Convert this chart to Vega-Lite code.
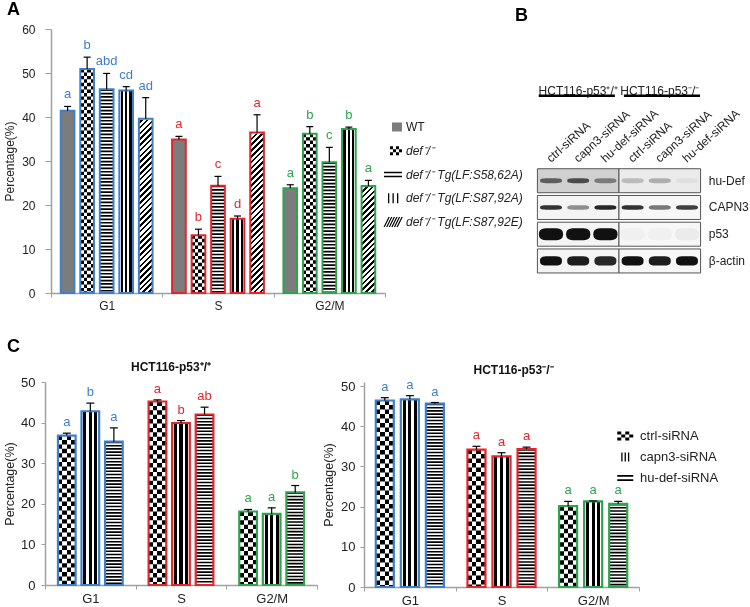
{
"$schema":"https://vega.github.io/schema/vega-lite/v6.json",
"background":"white",
"padding":{"left":3,"top":1,"right":2,"bottom":2},
"config":{"font":"Liberation Sans","view":{"stroke":null},"axis":{"grid":false}},
"bounds":"flush",
"spacing":353,
"resolve":{"scale":{"xOffset":"independent","shape":"independent","color":"independent","opacity":"independent"}},
"vconcat":[
{"hconcat":[
 {"width":6,"height":264,"data":{"values":[{}]},"mark":{"type":"point","opacity":0},"encoding":{}},
 {"width":334,"height":264,
  "title":{"text":"A","anchor":"start","frame":"group","dx":-44,"offset":4,"fontSize":18,"fontWeight":"bold","color":"#000"},
  "data":{"values":[
   {"phase":"G1","g":"WT","v":41.4,"top":42.4,"lab":"a"},
   {"phase":"G1","g":"def","v":50.9,"top":53.6,"lab":"b"},
   {"phase":"G1","g":"S58A","v":46.3,"top":49.9,"lab":"abd"},
   {"phase":"G1","g":"S87A","v":46.0,"top":46.9,"lab":"cd"},
   {"phase":"G1","g":"S87E","v":39.6,"top":44.4,"lab":"ad"},
   {"phase":"S","g":"WT","v":34.9,"top":35.6,"lab":"a"},
   {"phase":"S","g":"def","v":13.1,"top":14.5,"lab":"b"},
   {"phase":"S","g":"S58A","v":24.4,"top":26.5,"lab":"c"},
   {"phase":"S","g":"S87A","v":16.9,"top":17.5,"lab":"d"},
   {"phase":"S","g":"S87E","v":36.5,"top":40.5,"lab":"a"},
   {"phase":"G2/M","g":"WT","v":23.8,"top":24.6,"lab":"a"},
   {"phase":"G2/M","g":"def","v":36.2,"top":37.8,"lab":"b"},
   {"phase":"G2/M","g":"S58A","v":29.7,"top":33.1,"lab":"c"},
   {"phase":"G2/M","g":"S87A","v":37.3,"top":37.7,"lab":"b"},
   {"phase":"G2/M","g":"S87E","v":24.3,"top":25.6,"lab":"a"}]},
  "encoding":{
   "x":{"field":"phase","type":"nominal","scale":{"domain":["G1","S","G2/M"],"paddingInner":0,"paddingOuter":0},"axis":{"title":null,"labelAngle":0,"labelFontSize":12,"labelColor":"#222","labelPadding":3,"domainColor":"#a0a0a0","domainWidth":1.5,"tickColor":"#a0a0a0","tickSize":4,"tickBand":"extent"}},
   "xOffset":{"field":"g","type":"nominal","scale":{"domain":["WT","def","S58A","S87A","S87E"],"paddingInner":0.3,"paddingOuter":0.5}}},
  "layer":[
   {"transform":[{"filter":"datum.g==='def'"}],"mark":{"type":"bar","fill":"#fff"},
    "encoding":{"y":{"field":"v","type":"quantitative","scale":{"domain":[0,60],"nice":false,"zero":true},
     "axis":{"title":"Percentage(%)","titleFontSize":12,"titleFontWeight":"normal","titleColor":"#222","titlePadding":5,"values":[0,10,20,30,40,50,60],"labelFontSize":12,"labelColor":"#222","labelPadding":10,"tickSize":6,"tickColor":"#a0a0a0","domainColor":"#a0a0a0","domainWidth":1.5,"grid":false}}}},
   {"transform":[{"filter":"datum.g==='def'"}],"mark":{"type":"rule","strokeWidth":13.67,"strokeDash":[3.42,3.42],"color":"#000"},
    "encoding":{"y":{"field":"v","type":"quantitative"},"y2":{"datum":0}}},
   {"transform":[{"filter":"datum.g==='def'"}],"mark":{"type":"bar","blend":"difference","fill":{"gradient":"linear","x1":0,"y1":0,"x2":1,"y2":0,"stops":[{"offset":0,"color":"#000"},{"offset":0.25,"color":"#000"},{"offset":0.25,"color":"#fff"},{"offset":0.5,"color":"#fff"},{"offset":0.5,"color":"#000"},{"offset":0.75,"color":"#000"},{"offset":0.75,"color":"#fff"},{"offset":1,"color":"#fff"}]}},
    "encoding":{"y":{"field":"v","type":"quantitative"}}},
   {"transform":[{"filter":"datum.g==='WT'"}],"mark":{"type":"bar","fill":"#7c7c7c"},
    "encoding":{"y":{"field":"v","type":"quantitative"}}},
   {"transform":[{"filter":"datum.g==='S58A'"}],"mark":{"type":"rule","strokeWidth":13.67,"strokeDash":[1.7,1.7],"color":"#000"},
    "encoding":{"y":{"field":"v","type":"quantitative"},"y2":{"datum":0}}},
   {"transform":[{"filter":"datum.g==='S87A'"}],"mark":{"type":"bar","fill":{"gradient":"linear","x1":0,"y1":0,"x2":1,"y2":0,"stops":[{"offset":0,"color":"#fff"},{"offset":0.1,"color":"#fff"},{"offset":0.1,"color":"#000"},{"offset":0.27,"color":"#000"},{"offset":0.27,"color":"#fff"},{"offset":0.415,"color":"#fff"},{"offset":0.415,"color":"#000"},{"offset":0.585,"color":"#000"},{"offset":0.585,"color":"#fff"},{"offset":0.73,"color":"#fff"},{"offset":0.73,"color":"#000"},{"offset":0.9,"color":"#000"},{"offset":0.9,"color":"#fff"},{"offset":1,"color":"#fff"}]}},
    "encoding":{"y":{"field":"v","type":"quantitative"}}},
   {"transform":[{"filter":"datum.g==='S87E'"}],"mark":{"type":"bar","fill":{"gradient":"linear","x1":0,"y1":0,"x2":0.05432,"y2":1.04897,"stops":[
{"offset":0,"color":"#000"},{"offset":0.0094,"color":"#000"},{"offset":0.0094,"color":"#fff"},{"offset":0.0208,"color":"#fff"},
{"offset":0.0208,"color":"#000"},{"offset":0.0302,"color":"#000"},{"offset":0.0302,"color":"#fff"},{"offset":0.0417,"color":"#fff"},
{"offset":0.0417,"color":"#000"},{"offset":0.0511,"color":"#000"},{"offset":0.0511,"color":"#fff"},{"offset":0.0625,"color":"#fff"},
{"offset":0.0625,"color":"#000"},{"offset":0.0719,"color":"#000"},{"offset":0.0719,"color":"#fff"},{"offset":0.0833,"color":"#fff"},
{"offset":0.0833,"color":"#000"},{"offset":0.0927,"color":"#000"},{"offset":0.0927,"color":"#fff"},{"offset":0.1042,"color":"#fff"},
{"offset":0.1042,"color":"#000"},{"offset":0.1136,"color":"#000"},{"offset":0.1136,"color":"#fff"},{"offset":0.125,"color":"#fff"},
{"offset":0.125,"color":"#000"},{"offset":0.1344,"color":"#000"},{"offset":0.1344,"color":"#fff"},{"offset":0.1458,"color":"#fff"},
{"offset":0.1458,"color":"#000"},{"offset":0.1552,"color":"#000"},{"offset":0.1552,"color":"#fff"},{"offset":0.1667,"color":"#fff"},
{"offset":0.1667,"color":"#000"},{"offset":0.1761,"color":"#000"},{"offset":0.1761,"color":"#fff"},{"offset":0.1875,"color":"#fff"},
{"offset":0.1875,"color":"#000"},{"offset":0.1969,"color":"#000"},{"offset":0.1969,"color":"#fff"},{"offset":0.2083,"color":"#fff"},
{"offset":0.2083,"color":"#000"},{"offset":0.2177,"color":"#000"},{"offset":0.2177,"color":"#fff"},{"offset":0.2292,"color":"#fff"},
{"offset":0.2292,"color":"#000"},{"offset":0.2386,"color":"#000"},{"offset":0.2386,"color":"#fff"},{"offset":0.25,"color":"#fff"},
{"offset":0.25,"color":"#000"},{"offset":0.2594,"color":"#000"},{"offset":0.2594,"color":"#fff"},{"offset":0.2708,"color":"#fff"},
{"offset":0.2708,"color":"#000"},{"offset":0.2802,"color":"#000"},{"offset":0.2802,"color":"#fff"},{"offset":0.2917,"color":"#fff"},
{"offset":0.2917,"color":"#000"},{"offset":0.3011,"color":"#000"},{"offset":0.3011,"color":"#fff"},{"offset":0.3125,"color":"#fff"},
{"offset":0.3125,"color":"#000"},{"offset":0.3219,"color":"#000"},{"offset":0.3219,"color":"#fff"},{"offset":0.3333,"color":"#fff"},
{"offset":0.3333,"color":"#000"},{"offset":0.3427,"color":"#000"},{"offset":0.3427,"color":"#fff"},{"offset":0.3542,"color":"#fff"},
{"offset":0.3542,"color":"#000"},{"offset":0.3636,"color":"#000"},{"offset":0.3636,"color":"#fff"},{"offset":0.375,"color":"#fff"},
{"offset":0.375,"color":"#000"},{"offset":0.3844,"color":"#000"},{"offset":0.3844,"color":"#fff"},{"offset":0.3958,"color":"#fff"},
{"offset":0.3958,"color":"#000"},{"offset":0.4052,"color":"#000"},{"offset":0.4052,"color":"#fff"},{"offset":0.4167,"color":"#fff"},
{"offset":0.4167,"color":"#000"},{"offset":0.4261,"color":"#000"},{"offset":0.4261,"color":"#fff"},{"offset":0.4375,"color":"#fff"},
{"offset":0.4375,"color":"#000"},{"offset":0.4469,"color":"#000"},{"offset":0.4469,"color":"#fff"},{"offset":0.4583,"color":"#fff"},
{"offset":0.4583,"color":"#000"},{"offset":0.4677,"color":"#000"},{"offset":0.4677,"color":"#fff"},{"offset":0.4792,"color":"#fff"},
{"offset":0.4792,"color":"#000"},{"offset":0.4886,"color":"#000"},{"offset":0.4886,"color":"#fff"},{"offset":0.5,"color":"#fff"},
{"offset":0.5,"color":"#000"},{"offset":0.5094,"color":"#000"},{"offset":0.5094,"color":"#fff"},{"offset":0.5208,"color":"#fff"},
{"offset":0.5208,"color":"#000"},{"offset":0.5302,"color":"#000"},{"offset":0.5302,"color":"#fff"},{"offset":0.5417,"color":"#fff"},
{"offset":0.5417,"color":"#000"},{"offset":0.5511,"color":"#000"},{"offset":0.5511,"color":"#fff"},{"offset":0.5625,"color":"#fff"},
{"offset":0.5625,"color":"#000"},{"offset":0.5719,"color":"#000"},{"offset":0.5719,"color":"#fff"},{"offset":0.5833,"color":"#fff"},
{"offset":0.5833,"color":"#000"},{"offset":0.5927,"color":"#000"},{"offset":0.5927,"color":"#fff"},{"offset":0.6042,"color":"#fff"},
{"offset":0.6042,"color":"#000"},{"offset":0.6136,"color":"#000"},{"offset":0.6136,"color":"#fff"},{"offset":0.625,"color":"#fff"},
{"offset":0.625,"color":"#000"},{"offset":0.6344,"color":"#000"},{"offset":0.6344,"color":"#fff"},{"offset":0.6458,"color":"#fff"},
{"offset":0.6458,"color":"#000"},{"offset":0.6552,"color":"#000"},{"offset":0.6552,"color":"#fff"},{"offset":0.6667,"color":"#fff"},
{"offset":0.6667,"color":"#000"},{"offset":0.6761,"color":"#000"},{"offset":0.6761,"color":"#fff"},{"offset":0.6875,"color":"#fff"},
{"offset":0.6875,"color":"#000"},{"offset":0.6969,"color":"#000"},{"offset":0.6969,"color":"#fff"},{"offset":0.7083,"color":"#fff"},
{"offset":0.7083,"color":"#000"},{"offset":0.7177,"color":"#000"},{"offset":0.7177,"color":"#fff"},{"offset":0.7292,"color":"#fff"},
{"offset":0.7292,"color":"#000"},{"offset":0.7386,"color":"#000"},{"offset":0.7386,"color":"#fff"},{"offset":0.75,"color":"#fff"},
{"offset":0.75,"color":"#000"},{"offset":0.7594,"color":"#000"},{"offset":0.7594,"color":"#fff"},{"offset":0.7708,"color":"#fff"},
{"offset":0.7708,"color":"#000"},{"offset":0.7802,"color":"#000"},{"offset":0.7802,"color":"#fff"},{"offset":0.7917,"color":"#fff"},
{"offset":0.7917,"color":"#000"},{"offset":0.8011,"color":"#000"},{"offset":0.8011,"color":"#fff"},{"offset":0.8125,"color":"#fff"},
{"offset":0.8125,"color":"#000"},{"offset":0.8219,"color":"#000"},{"offset":0.8219,"color":"#fff"},{"offset":0.8333,"color":"#fff"},
{"offset":0.8333,"color":"#000"},{"offset":0.8427,"color":"#000"},{"offset":0.8427,"color":"#fff"},{"offset":0.8542,"color":"#fff"},
{"offset":0.8542,"color":"#000"},{"offset":0.8636,"color":"#000"},{"offset":0.8636,"color":"#fff"},{"offset":0.875,"color":"#fff"},
{"offset":0.875,"color":"#000"},{"offset":0.8844,"color":"#000"},{"offset":0.8844,"color":"#fff"},{"offset":0.8958,"color":"#fff"},
{"offset":0.8958,"color":"#000"},{"offset":0.9052,"color":"#000"},{"offset":0.9052,"color":"#fff"},{"offset":0.9167,"color":"#fff"},
{"offset":0.9167,"color":"#000"},{"offset":0.9261,"color":"#000"},{"offset":0.9261,"color":"#fff"},{"offset":0.9375,"color":"#fff"},
{"offset":0.9375,"color":"#000"},{"offset":0.9469,"color":"#000"},{"offset":0.9469,"color":"#fff"},{"offset":0.9583,"color":"#fff"},
{"offset":0.9583,"color":"#000"},{"offset":0.9677,"color":"#000"},{"offset":0.9677,"color":"#fff"},{"offset":0.9792,"color":"#fff"},
{"offset":0.9792,"color":"#000"},{"offset":0.9886,"color":"#000"},{"offset":0.9886,"color":"#fff"},{"offset":1,"color":"#fff"}]}},
    "encoding":{"y":{"datum":60,"type":"quantitative"},"y2":{"datum":0}}},
   {"transform":[{"filter":"datum.g==='S87E'"}],"mark":{"type":"bar","fill":"#fff","stroke":"#fff","strokeWidth":2},
    "encoding":{"y":{"field":"v","type":"quantitative"},"y2":{"datum":60}}},
   {"mark":{"type":"bar","filled":false,"strokeWidth":2},
    "encoding":{"y":{"field":"v","type":"quantitative"},"color":{"field":"phase","type":"nominal","scale":{"domain":["G1","S","G2/M"],"range":["#3f7fc8","#e3262c","#30a24f"]},"legend":null}}},
   {"mark":{"type":"rule","color":"#000","strokeWidth":1.2},
    "encoding":{"y":{"field":"v","type":"quantitative"},"y2":{"field":"top"}}},
   {"mark":{"type":"tick","orient":"horizontal","size":7,"thickness":1.2,"color":"#000","opacity":1},
    "encoding":{"y":{"field":"top","type":"quantitative"}}},
   {"mark":{"type":"text","baseline":"alphabetic","dy":-8,"fontSize":13},
    "encoding":{"y":{"field":"top","type":"quantitative"},"text":{"field":"lab"},"color":{"field":"phase","type":"nominal","legend":null}}}
  ]},
 {"width":367,"height":264,
  "title":{"text":"B","anchor":"start","frame":"group","dx":130,"offset":4,"fontSize":18,"fontWeight":"bold","color":"#000"},
  "resolve":{"scale":{"y":"independent","shape":"independent"}},
  "layer":[
   {"data":{"values":[{"g":"WT","t":"WT"},{"g":"def","t":"def⁻/⁻"},{"g":"S58A","t":"def⁻/⁻ Tg(LF:S58,62A)"},{"g":"S87A","t":"def⁻/⁻ Tg(LF:S87,92A)"},{"g":"S87E","t":"def⁻/⁻ Tg(LF:S87,92E)"}]},
    "encoding":{"y":{"field":"g","type":"nominal","scale":{"type":"point","domain":["WT","def","S58A","S87A","S87E"],"range":[98,193],"padding":0},"axis":null}},
    "layer":[
     {"mark":{"type":"point","filled":true,"size":400,"opacity":1,"strokeWidth":0},
      "encoding":{"x":{"datum":-4.809,"type":"quantitative","scale":{"domain":[-5.103,8.39],"nice":false,"zero":false},"axis":null},
       "shape":{"field":"g","type":"nominal","scale":{"domain":["WT","def","S58A","S87A","S87E"],"range":[
        "M-0.1,-0.45h1v0.9h-1Z",
        "M-0.3,-0.45h0.3v0.3h-0.3Z M0.3,-0.45h0.3v0.3h-0.3Z M0,-0.15h0.3v0.3h-0.3Z M0.6,-0.15h0.3v0.3h-0.3Z M-0.3,0.15h0.3v0.3h-0.3Z M0.3,0.15h0.3v0.3h-0.3Z",
        "M-0.9,-0.28h1.8v0.16h-1.8Z M-0.9,0.12h1.8v0.16h-1.8Z",
        "M-0.5,-0.5h0.13v1h-0.13Z M-0.05,-0.5h0.13v1h-0.13Z M0.4,-0.5h0.13v1h-0.13Z",
        "M-0.95,0.5L-0.45,-0.5L-0.32,-0.5L-0.82,0.5Z M-0.69,0.5L-0.19,-0.5L-0.06,-0.5L-0.56,0.5Z M-0.43,0.5L0.07,-0.5L0.2,-0.5L-0.3,0.5Z M-0.17,0.5L0.33,-0.5L0.46,-0.5L-0.04,0.5Z M0.09,0.5L0.59,-0.5L0.72,-0.5L0.22,0.5Z M0.35,0.5L0.85,-0.5L0.98,-0.5L0.48,0.5Z"]},"legend":null},
       "fill":{"condition":{"test":"datum.g==='WT'","value":"#7c7c7c"},"value":"#000"}}},
     {"transform":[{"filter":"datum.g!=='WT'"}],"mark":{"type":"text","align":"left","baseline":"middle","fontSize":12,"fontStyle":"italic","color":"#222"},
      "encoding":{"x":{"datum":-4.331,"type":"quantitative"},"text":{"field":"t"}}},
     {"transform":[{"filter":"datum.g==='WT'"}],"mark":{"type":"text","align":"left","baseline":"middle","fontSize":12,"color":"#222"},
      "encoding":{"x":{"datum":-4.331,"type":"quantitative"},"text":{"field":"t"}}}
    ]},
   {"layer":[
     {"data":{"values":[{"protein":"hu-Def","row":1},{"protein":"CAPN3","row":2},{"protein":"p53","row":3},{"protein":"β-actin","row":4}]},
      "mark":{"type":"bar","orient":"horizontal","height":24,"stroke":"#555","strokeWidth":1},
      "encoding":{"x":{"datum":0.5,"type":"quantitative","scale":{"domain":[-5.103,8.39],"nice":false,"zero":false},"axis":null},"x2":{"datum":3.5},
       "y":{"field":"row","type":"quantitative","scale":{"domain":[-4.486,5.011],"reverse":true,"nice":false,"zero":false},"axis":null},
       "fill":{"condition":{"test":"datum.protein==='hu-Def'","value":"#d0d0d0"},"value":"#f4f4f4"}}},
     {"data":{"values":[{"protein":"hu-Def","row":1},{"protein":"CAPN3","row":2},{"protein":"p53","row":3},{"protein":"β-actin","row":4}]},
      "mark":{"type":"bar","orient":"horizontal","height":24,"stroke":"#555","strokeWidth":1},
      "encoding":{"x":{"datum":3.5,"type":"quantitative"},"x2":{"datum":6.5},
       "y":{"field":"row","type":"quantitative"},
       "fill":{"condition":{"test":"datum.protein==='hu-Def'","value":"#ebebeb"},"value":"#f7f7f7"}}},
     {"data":{"values":[
       {"protein":"hu-Def","row":1,"lane":1,"intensity":0.6},{"protein":"hu-Def","row":1,"lane":2,"intensity":0.7},{"protein":"hu-Def","row":1,"lane":3,"intensity":0.45},
       {"protein":"hu-Def","row":1,"lane":4,"intensity":0.22},{"protein":"hu-Def","row":1,"lane":5,"intensity":0.28},{"protein":"hu-Def","row":1,"lane":6,"intensity":0.05},
       {"protein":"CAPN3","row":2,"lane":1,"intensity":0.85},{"protein":"CAPN3","row":2,"lane":2,"intensity":0.45},{"protein":"CAPN3","row":2,"lane":3,"intensity":0.9},
       {"protein":"CAPN3","row":2,"lane":4,"intensity":0.85},{"protein":"CAPN3","row":2,"lane":5,"intensity":0.55},{"protein":"CAPN3","row":2,"lane":6,"intensity":0.8},
       {"protein":"p53","row":3,"lane":1,"intensity":1},{"protein":"p53","row":3,"lane":2,"intensity":1},{"protein":"p53","row":3,"lane":3,"intensity":1},
       {"protein":"p53","row":3,"lane":4,"intensity":0.03},{"protein":"p53","row":3,"lane":5,"intensity":0.03},{"protein":"p53","row":3,"lane":6,"intensity":0.05},
       {"protein":"β-actin","row":4,"lane":1,"intensity":1},{"protein":"β-actin","row":4,"lane":2,"intensity":0.95},{"protein":"β-actin","row":4,"lane":3,"intensity":0.9},
       {"protein":"β-actin","row":4,"lane":4,"intensity":1},{"protein":"β-actin","row":4,"lane":5,"intensity":0.95},{"protein":"β-actin","row":4,"lane":6,"intensity":1}]},
      "mark":{"type":"point","filled":true,"size":484,"strokeWidth":0,"fill":"#111"},
      "encoding":{"x":{"field":"lane","type":"quantitative"},"y":{"field":"row","type":"quantitative"},
       "shape":{"field":"protein","type":"nominal","scale":{"domain":["hu-Def","CAPN3","p53","β-actin"],"range":[
        "M-1,0C-1,-0.22,-0.7,-0.22,0,-0.22C0.7,-0.22,1,-0.22,1,0C1,0.22,0.7,0.22,0,0.22C-0.7,0.22,-1,0.22,-1,0Z",
        "M-1,0C-1,-0.2,-0.7,-0.2,0,-0.2C0.7,-0.2,1,-0.2,1,0C1,0.2,0.7,0.2,0,0.2C-0.7,0.2,-1,0.2,-1,0Z",
        "M-1.1,0C-1.1,-0.55,-0.7,-0.55,0,-0.55C0.7,-0.55,1.1,-0.55,1.1,0C1.1,0.55,0.7,0.55,0,0.55C-0.7,0.55,-1.1,0.55,-1.1,0Z",
        "M-1,0C-1,-0.42,-0.7,-0.42,0,-0.42C0.7,-0.42,1,-0.42,1,0C1,0.42,0.7,0.42,0,0.42C-0.7,0.42,-1,0.42,-1,0Z"]},"legend":null},
       "opacity":{"field":"intensity","type":"quantitative","scale":null}}},
     {"data":{"values":[{"protein":"hu-Def","row":1},{"protein":"CAPN3","row":2},{"protein":"p53","row":3},{"protein":"β-actin","row":4}]},
      "mark":{"type":"text","align":"left","baseline":"middle","fontSize":12,"color":"#222"},
      "encoding":{"x":{"datum":6.8,"type":"quantitative"},"y":{"field":"row","type":"quantitative"},"text":{"field":"protein"}}},
     {"data":{"values":[{"lane":2,"t":"HCT116-p53⁺/⁺"},{"lane":5,"t":"HCT116-p53⁻/⁻"}]},
      "mark":{"type":"text","align":"center","baseline":"middle","fontSize":12,"color":"#222"},
      "encoding":{"x":{"field":"lane","type":"quantitative"},"y":{"datum":-2.36,"type":"quantitative"},"text":{"field":"t"}}},
     {"data":{"values":[{}]},"mark":{"type":"rule","strokeWidth":2.5,"color":"#000"},
      "encoding":{"x":{"datum":0.55,"type":"quantitative"},"x2":{"datum":3.35},"y":{"datum":-2.18,"type":"quantitative"}}},
     {"data":{"values":[{}]},"mark":{"type":"rule","strokeWidth":2.5,"color":"#000"},
      "encoding":{"x":{"datum":3.68,"type":"quantitative"},"x2":{"datum":6.48},"y":{"datum":-2.18,"type":"quantitative"}}},
     {"data":{"values":[{"lane":1,"t":"ctrl-siRNA"},{"lane":2,"t":"capn3-siRNA"},{"lane":3,"t":"hu-def-siRNA"},{"lane":4,"t":"ctrl-siRNA"},{"lane":5,"t":"capn3-siRNA"},{"lane":6,"t":"hu-def-siRNA"}]},
      "mark":{"type":"text","align":"left","baseline":"alphabetic","angle":-42,"fontSize":12,"color":"#222"},
      "encoding":{"x":{"field":"lane","type":"quantitative"},"y":{"datum":0.335,"type":"quantitative"},"text":{"field":"t"}}}
   ]}
  ]}
 ],"spacing":0,"bounds":"flush",
 "resolve":{"scale":{"xOffset":"independent","shape":"independent","color":"independent","opacity":"independent"}}},
{"hconcat":[
 {"width":272,"height":203,
  "title":{"text":"HCT116-p53⁺/⁺","anchor":"middle","frame":"group","dx":-10,"offset":2,"fontSize":12,"fontWeight":"bold","color":"#111"},
  "data":{"values":[
   {"phase":"G1","g":"ctrl","v":36.8,"top":37.4,"lab":"a"},
   {"phase":"G1","g":"capn3","v":42.8,"top":44.8,"lab":"b"},
   {"phase":"G1","g":"hudef","v":35.3,"top":38.7,"lab":"a"},
   {"phase":"S","g":"ctrl","v":45.2,"top":45.6,"lab":"a"},
   {"phase":"S","g":"capn3","v":39.9,"top":40.5,"lab":"b"},
   {"phase":"S","g":"hudef","v":42.0,"top":43.8,"lab":"ab"},
   {"phase":"G2/M","g":"ctrl","v":18.1,"top":18.6,"lab":"a"},
   {"phase":"G2/M","g":"capn3","v":17.5,"top":19.0,"lab":"a"},
   {"phase":"G2/M","g":"hudef","v":22.8,"top":24.5,"lab":"b"}]},
  "encoding":{
   "x":{"field":"phase","type":"nominal","scale":{"domain":["G1","S","G2/M"],"paddingInner":0,"paddingOuter":0},"axis":{"title":null,"labelAngle":0,"labelFontSize":13,"labelColor":"#222","labelPadding":3,"domainColor":"#a0a0a0","domainWidth":1.5,"tickColor":"#a0a0a0","tickSize":4,"tickBand":"extent"}},
   "xOffset":{"field":"g","type":"nominal","scale":{"domain":["ctrl","capn3","hudef"],"paddingInner":0.25,"paddingOuter":0.55}}},
  "layer":[
   {"transform":[{"filter":"datum.g==='ctrl'"}],"mark":{"type":"bar","fill":"#fff"},
    "encoding":{"y":{"field":"v","type":"quantitative","scale":{"domain":[0,50],"nice":false,"zero":true},
     "axis":{"title":"Percentage(%)","titleFontSize":12.5,"titleFontWeight":"normal","titleColor":"#222","titlePadding":4,"values":[0,10,20,30,40,50],"labelFontSize":13,"labelColor":"#222","labelPadding":6,"tickSize":4,"tickColor":"#a0a0a0","domainColor":"#a0a0a0","domainWidth":1.5,"grid":false}}}},
   {"transform":[{"filter":"datum.g==='ctrl'"}],"mark":{"type":"rule","strokeWidth":17.66,"strokeDash":[4.4,4.4],"color":"#000"},
    "encoding":{"y":{"field":"v","type":"quantitative"},"y2":{"datum":0}}},
   {"transform":[{"filter":"datum.g==='ctrl'"}],"mark":{"type":"bar","blend":"difference","fill":{"gradient":"linear","x1":0,"y1":0,"x2":1,"y2":0,"stops":[{"offset":0,"color":"#000"},{"offset":0.25,"color":"#000"},{"offset":0.25,"color":"#fff"},{"offset":0.5,"color":"#fff"},{"offset":0.5,"color":"#000"},{"offset":0.75,"color":"#000"},{"offset":0.75,"color":"#fff"},{"offset":1,"color":"#fff"}]}},
    "encoding":{"y":{"field":"v","type":"quantitative"}}},
   {"transform":[{"filter":"datum.g==='capn3'"}],"mark":{"type":"bar","fill":{"gradient":"linear","x1":0,"y1":0,"x2":1,"y2":0,"stops":[{"offset":0,"color":"#fff"},{"offset":0.1,"color":"#fff"},{"offset":0.1,"color":"#000"},{"offset":0.27,"color":"#000"},{"offset":0.27,"color":"#fff"},{"offset":0.415,"color":"#fff"},{"offset":0.415,"color":"#000"},{"offset":0.585,"color":"#000"},{"offset":0.585,"color":"#fff"},{"offset":0.73,"color":"#fff"},{"offset":0.73,"color":"#000"},{"offset":0.9,"color":"#000"},{"offset":0.9,"color":"#fff"},{"offset":1,"color":"#fff"}]}},
    "encoding":{"y":{"field":"v","type":"quantitative"}}},
   {"transform":[{"filter":"datum.g==='hudef'"}],"mark":{"type":"rule","strokeWidth":17.66,"strokeDash":[1.6,1.6],"color":"#000"},
    "encoding":{"y":{"field":"v","type":"quantitative"},"y2":{"datum":0}}},
   {"mark":{"type":"bar","filled":false,"strokeWidth":2.2},
    "encoding":{"y":{"field":"v","type":"quantitative"},"color":{"field":"phase","type":"nominal","scale":{"domain":["G1","S","G2/M"],"range":["#3f7fc8","#e3262c","#30a24f"]},"legend":null}}},
   {"mark":{"type":"rule","color":"#000","strokeWidth":1.2},
    "encoding":{"y":{"field":"v","type":"quantitative"},"y2":{"field":"top"}}},
   {"mark":{"type":"tick","orient":"horizontal","size":8,"thickness":1.2,"color":"#000","opacity":1},
    "encoding":{"y":{"field":"top","type":"quantitative"}}},
   {"mark":{"type":"text","baseline":"alphabetic","dy":-7,"fontSize":13},
    "encoding":{"y":{"field":"top","type":"quantitative"},"text":{"field":"lab"},"color":{"field":"phase","type":"nominal","legend":null}}}
  ]},
 {"width":47,"height":205,"data":{"values":[{}]},"mark":{"type":"point","opacity":0},"encoding":{},
  "title":{"text":"C","anchor":"start","frame":"group","dx":-310,"offset":26,"fontSize":18,"fontWeight":"bold","color":"#000"}},
 {"width":275,"height":205,
  "title":{"text":"HCT116-p53⁻/⁻","anchor":"middle","frame":"group","dx":12,"offset":2,"fontSize":12,"fontWeight":"bold","color":"#111"},
  "resolve":{"scale":{"x":"independent","y":"independent","shape":"independent"}},
  "layer":[
   {"data":{"values":[
     {"phase":"G1","g":"ctrl","v":46.4,"top":47.1,"lab":"a"},
     {"phase":"G1","g":"capn3","v":46.7,"top":47.6,"lab":"a"},
     {"phase":"G1","g":"hudef","v":45.6,"top":45.9,"lab":"a"},
     {"phase":"S","g":"ctrl","v":34.2,"top":35.0,"lab":"a"},
     {"phase":"S","g":"capn3","v":32.5,"top":33.4,"lab":"a"},
     {"phase":"S","g":"hudef","v":34.3,"top":34.8,"lab":"a"},
     {"phase":"G2/M","g":"ctrl","v":20.1,"top":21.3,"lab":"a"},
     {"phase":"G2/M","g":"capn3","v":21.3,"top":21.4,"lab":"a"},
     {"phase":"G2/M","g":"hudef","v":20.7,"top":21.3,"lab":"a"}]},
    "encoding":{
     "x":{"field":"phase","type":"nominal","scale":{"domain":["G1","S","G2/M"],"paddingInner":0,"paddingOuter":0},"axis":{"title":null,"labelAngle":0,"labelFontSize":13,"labelColor":"#222","labelPadding":3,"domainColor":"#a0a0a0","domainWidth":1.5,"tickColor":"#a0a0a0","tickSize":4,"tickBand":"extent"}},
     "xOffset":{"field":"g","type":"nominal","scale":{"domain":["ctrl","capn3","hudef"],"paddingInner":0.28,"paddingOuter":0.47}}},
    "layer":[
     {"transform":[{"filter":"datum.g==='ctrl'"}],"mark":{"type":"bar","fill":"#fff"},
      "encoding":{"y":{"field":"v","type":"quantitative","scale":{"domain":[0,51],"nice":false,"zero":true},
       "axis":{"title":"Percentage(%)","titleFontSize":12.5,"titleFontWeight":"normal","titleColor":"#222","titlePadding":5,"values":[0,10,20,30,40,50],"labelFontSize":13,"labelColor":"#222","labelPadding":5,"tickSize":4,"tickColor":"#a0a0a0","domainColor":"#a0a0a0","domainWidth":1.5,"grid":false}}}},
     {"transform":[{"filter":"datum.g==='ctrl'"}],"mark":{"type":"rule","strokeWidth":18.03,"strokeDash":[4.5,4.5],"color":"#000"},
      "encoding":{"y":{"field":"v","type":"quantitative"},"y2":{"datum":0}}},
     {"transform":[{"filter":"datum.g==='ctrl'"}],"mark":{"type":"bar","blend":"difference","fill":{"gradient":"linear","x1":0,"y1":0,"x2":1,"y2":0,"stops":[{"offset":0,"color":"#000"},{"offset":0.25,"color":"#000"},{"offset":0.25,"color":"#fff"},{"offset":0.5,"color":"#fff"},{"offset":0.5,"color":"#000"},{"offset":0.75,"color":"#000"},{"offset":0.75,"color":"#fff"},{"offset":1,"color":"#fff"}]}},
      "encoding":{"y":{"field":"v","type":"quantitative"}}},
     {"transform":[{"filter":"datum.g==='capn3'"}],"mark":{"type":"bar","fill":{"gradient":"linear","x1":0,"y1":0,"x2":1,"y2":0,"stops":[{"offset":0,"color":"#fff"},{"offset":0.1,"color":"#fff"},{"offset":0.1,"color":"#000"},{"offset":0.27,"color":"#000"},{"offset":0.27,"color":"#fff"},{"offset":0.415,"color":"#fff"},{"offset":0.415,"color":"#000"},{"offset":0.585,"color":"#000"},{"offset":0.585,"color":"#fff"},{"offset":0.73,"color":"#fff"},{"offset":0.73,"color":"#000"},{"offset":0.9,"color":"#000"},{"offset":0.9,"color":"#fff"},{"offset":1,"color":"#fff"}]}},
      "encoding":{"y":{"field":"v","type":"quantitative"}}},
     {"transform":[{"filter":"datum.g==='hudef'"}],"mark":{"type":"rule","strokeWidth":18.03,"strokeDash":[1.6,1.6],"color":"#000"},
      "encoding":{"y":{"field":"v","type":"quantitative"},"y2":{"datum":0}}},
     {"mark":{"type":"bar","filled":false,"strokeWidth":2.2},
      "encoding":{"y":{"field":"v","type":"quantitative"},"color":{"field":"phase","type":"nominal","scale":{"domain":["G1","S","G2/M"],"range":["#3f7fc8","#e3262c","#30a24f"]},"legend":null}}},
     {"mark":{"type":"rule","color":"#000","strokeWidth":1.2},
      "encoding":{"y":{"field":"v","type":"quantitative"},"y2":{"field":"top"}}},
     {"mark":{"type":"tick","orient":"horizontal","size":8,"thickness":1.2,"color":"#000","opacity":1},
      "encoding":{"y":{"field":"top","type":"quantitative"}}},
     {"mark":{"type":"text","baseline":"alphabetic","dy":-7,"fontSize":13},
      "encoding":{"y":{"field":"top","type":"quantitative"},"text":{"field":"lab"},"color":{"field":"phase","type":"nominal","legend":null}}}
    ]},
   {"data":{"values":[{"k":"ctrl","t":"ctrl-siRNA"},{"k":"capn3","t":"capn3-siRNA"},{"k":"hudef","t":"hu-def-siRNA"}]},
    "encoding":{"y":{"field":"k","type":"nominal","scale":{"type":"point","domain":["ctrl","capn3","hudef"],"range":[54,96],"padding":0},"axis":null}},
    "layer":[
     {"mark":{"type":"point","filled":true,"size":400,"opacity":1,"strokeWidth":0,"fill":"#000"},
      "encoding":{"x":{"datum":0.95,"type":"quantitative","scale":{"domain":[0,1],"nice":false,"zero":false},"axis":null},
       "shape":{"field":"k","type":"nominal","scale":{"domain":["ctrl","capn3","hudef"],"range":[
        "M-0.8,-0.45h0.4v0.3h-0.4Z M0,-0.45h0.4v0.3h-0.4Z M-0.4,-0.15h0.4v0.3h-0.4Z M0.4,-0.15h0.4v0.3h-0.4Z M-0.8,0.15h0.4v0.3h-0.4Z M0,0.15h0.4v0.3h-0.4Z",
        "M-0.4,-0.45h0.13v0.9h-0.13Z M-0.065,-0.45h0.13v0.9h-0.13Z M0.27,-0.45h0.13v0.9h-0.13Z",
        "M-0.8,-0.3h1.6v0.17h-1.6Z M-0.8,0.13h1.6v0.17h-1.6Z"]},"legend":null}}},
     {"mark":{"type":"text","align":"left","baseline":"middle","fontSize":13,"color":"#222"},
      "encoding":{"x":{"datum":1.004,"type":"quantitative"},"text":{"field":"t"}}}
    ]}
  ]}
 ],"spacing":0,"bounds":"flush",
 "resolve":{"scale":{"xOffset":"independent","shape":"independent","color":"independent","opacity":"independent"}}}
]
}
